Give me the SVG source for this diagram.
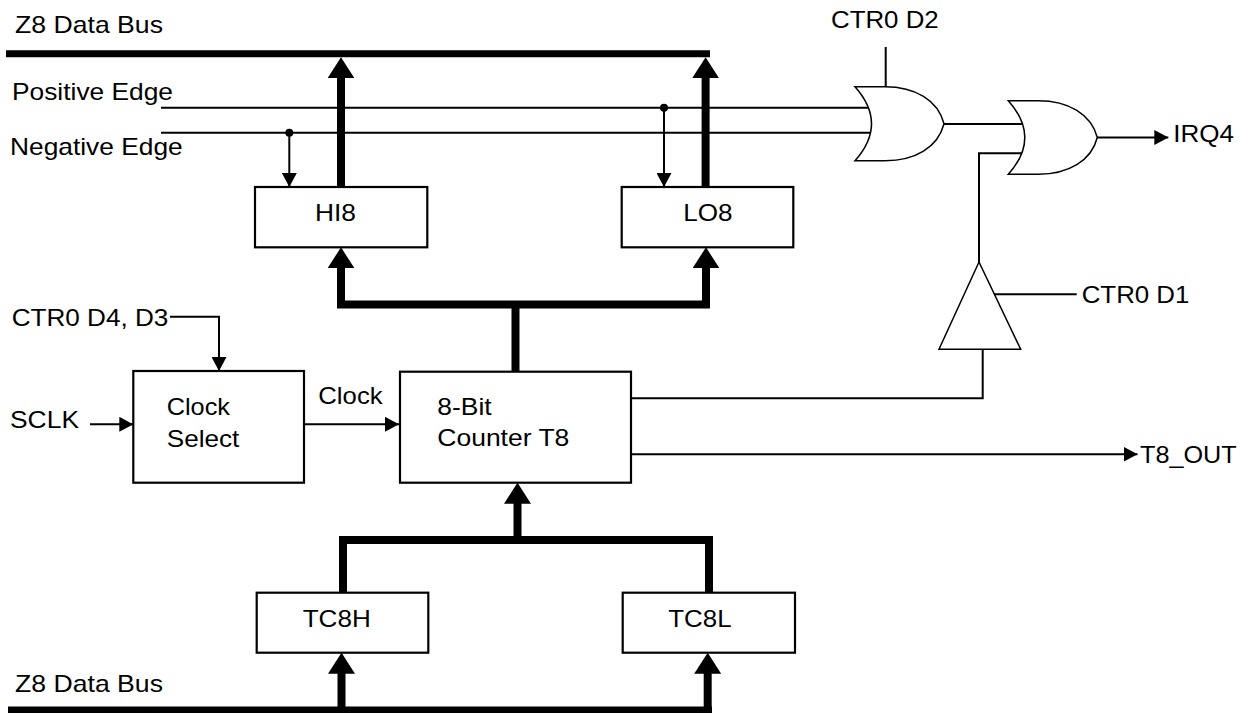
<svg xmlns="http://www.w3.org/2000/svg" width="1249" height="713" viewBox="0 0 1249 713">
<style>
.t{font-family:"Liberation Sans",Arial,sans-serif;font-size:24px;fill:#000}
.box{fill:#fff;stroke:#000;stroke-width:2.2}
.gate{fill:#fff;stroke:#000;stroke-width:1.5}
.w{fill:none;stroke:#000;stroke-width:2}
.bus{fill:none;stroke:#000;stroke-width:8;stroke-linejoin:miter}
.mainbus{fill:none;stroke:#000;stroke-width:7}
</style>
<defs>
<marker id="ah" viewBox="0 0 14 15" refX="14" refY="7.5" markerWidth="14" markerHeight="15" markerUnits="userSpaceOnUse" orient="auto-start-reverse"><path d="M0,0 L14,7.5 L0,15 Z" fill="#000"/></marker>
<marker id="bah" viewBox="0 0 21 27" refX="1" refY="13.5" markerWidth="21" markerHeight="27" markerUnits="userSpaceOnUse" orient="auto-start-reverse"><path d="M0,0 L21,13.5 L0,27 Z" fill="#000"/></marker>
</defs>
<rect width="1249" height="713" fill="#fff"/>
<g id="connectors">
<line class="mainbus" x1="6" y1="53.7" x2="710" y2="53.7"/>
<path class="bus" d="M341,187 V77.3" marker-end="url(#bah)"/>
<path class="bus" d="M705.6,187 V77.3" marker-end="url(#bah)"/>
<path class="w" d="M161,107.7 H880"/>
<path class="w" d="M161,132.7 H880"/>
<circle cx="289.3" cy="132.7" r="4" fill="#000"/>
<path class="w" d="M289.3,132.7 V187" marker-end="url(#ah)"/>
<circle cx="664" cy="107.7" r="4" fill="#000"/>
<path class="w" d="M664,107.7 V187" marker-end="url(#ah)"/>
<path class="w" d="M885.7,47 V87"/>
<path class="w" d="M944,124 H1030"/>
<path class="w" d="M979,262 V153.3 H1030"/>
<path class="w" d="M1097,137.5 H1168.3" marker-end="url(#ah)"/>
<path class="w" d="M993.3,294.3 H1076.7"/>
<path class="w" d="M631,398.3 H982.7 V349.3"/>
<path class="w" d="M631,454.3 H1137.5" marker-end="url(#ah)"/>
<path class="bus" d="M341,267.3 V304.5 H706 V267.3" marker-start="url(#bah)" marker-end="url(#bah)"/>
<path class="bus" d="M515.5,371.7 V304.5"/>
<path class="w" d="M170,316.7 H219 V371" marker-end="url(#ah)"/>
<path class="w" d="M90,424.3 H133.3" marker-end="url(#ah)"/>
<path class="w" d="M304,424.3 H399" marker-end="url(#ah)"/>
<path class="bus" d="M517.5,540 V502.7" marker-end="url(#bah)"/>
<path class="bus" d="M343,592.7 V540 H709 V592.7"/>
<line class="mainbus" x1="8" y1="710" x2="712" y2="710"/>
<path class="bus" d="M341.5,707 V672.7" marker-end="url(#bah)"/>
<path class="bus" d="M707.7,707 V672.7" marker-end="url(#bah)"/>
</g>
<g id="labels">
<text class="t" x="15" y="33" textLength="148" lengthAdjust="spacingAndGlyphs">Z8 Data Bus</text>
<text class="t" x="12" y="100" textLength="161" lengthAdjust="spacingAndGlyphs">Positive Edge</text>
<text class="t" x="10" y="155" textLength="172.7" lengthAdjust="spacingAndGlyphs">Negative Edge</text>
<text class="t" x="831" y="28" textLength="107.7" lengthAdjust="spacingAndGlyphs">CTR0 D2</text>
<text class="t" x="1173.3" y="141.7" textLength="60.7" lengthAdjust="spacingAndGlyphs">IRQ4</text>
<text class="t" x="1081.7" y="303.3" textLength="107.7" lengthAdjust="spacingAndGlyphs">CTR0 D1</text>
<text class="t" x="11.7" y="325.7" textLength="156.7" lengthAdjust="spacingAndGlyphs">CTR0 D4, D3</text>
<text class="t" x="10" y="428.3" textLength="69" lengthAdjust="spacingAndGlyphs">SCLK</text>
<text class="t" x="318.3" y="404" textLength="64.3" lengthAdjust="spacingAndGlyphs">Clock</text>
<text class="t" x="1140" y="463.3" textLength="96.7" lengthAdjust="spacingAndGlyphs">T8_OUT</text>
<text class="t" x="15" y="691.7" textLength="148" lengthAdjust="spacingAndGlyphs">Z8 Data Bus</text>
</g>
<g id="hi8">
<rect class="box" x="255" y="187" width="172.3" height="60.3"/>
<text class="t" x="315" y="220.7" textLength="41" lengthAdjust="spacingAndGlyphs">HI8</text>
</g>
<g id="lo8">
<rect class="box" x="621.7" y="187" width="171.6" height="60.3"/>
<text class="t" x="683.3" y="221" textLength="49.3" lengthAdjust="spacingAndGlyphs">LO8</text>
</g>
<g id="clock-select">
<rect class="box" x="133.3" y="371" width="170.7" height="111.7"/>
<text class="t" x="166.7" y="415" textLength="63.3" lengthAdjust="spacingAndGlyphs">Clock</text>
<text class="t" x="166.7" y="446.7" textLength="72.7" lengthAdjust="spacingAndGlyphs">Select</text>
</g>
<g id="counter">
<rect class="box" x="400" y="371.7" width="231" height="111"/>
<text class="t" x="437.3" y="415" textLength="54.3" lengthAdjust="spacingAndGlyphs">8-Bit</text>
<text class="t" x="437.3" y="446" textLength="132" lengthAdjust="spacingAndGlyphs">Counter T8</text>
</g>
<g id="tc8h">
<rect class="box" x="256.7" y="592.7" width="171.6" height="60"/>
<text class="t" x="302.7" y="627.3" textLength="68" lengthAdjust="spacingAndGlyphs">TC8H</text>
</g>
<g id="tc8l">
<rect class="box" x="622.7" y="592.7" width="172.3" height="60"/>
<text class="t" x="668.3" y="627.3" textLength="63.3" lengthAdjust="spacingAndGlyphs">TC8L</text>
</g>
<g id="or1">
<path class="gate" d="M855,86.7 H885 C915,86.7 938,100 944,123.7 C938,147.4 915,160.7 885,160.7 H855 Q888,123.7 855,86.7 Z"/>
</g>
<g id="or2">
<path class="gate" d="M1008.3,100.7 H1038.3 C1068.3,100.7 1091.3,114 1097.3,137.5 C1091.3,161 1068.3,174.3 1038.3,174.3 H1008.3 Q1041.3,137.5 1008.3,100.7 Z"/>
</g>
<g id="buffer">
<polygon class="gate" points="979,262 939,349.3 1020.7,349.3"/>
</g>
</svg>
